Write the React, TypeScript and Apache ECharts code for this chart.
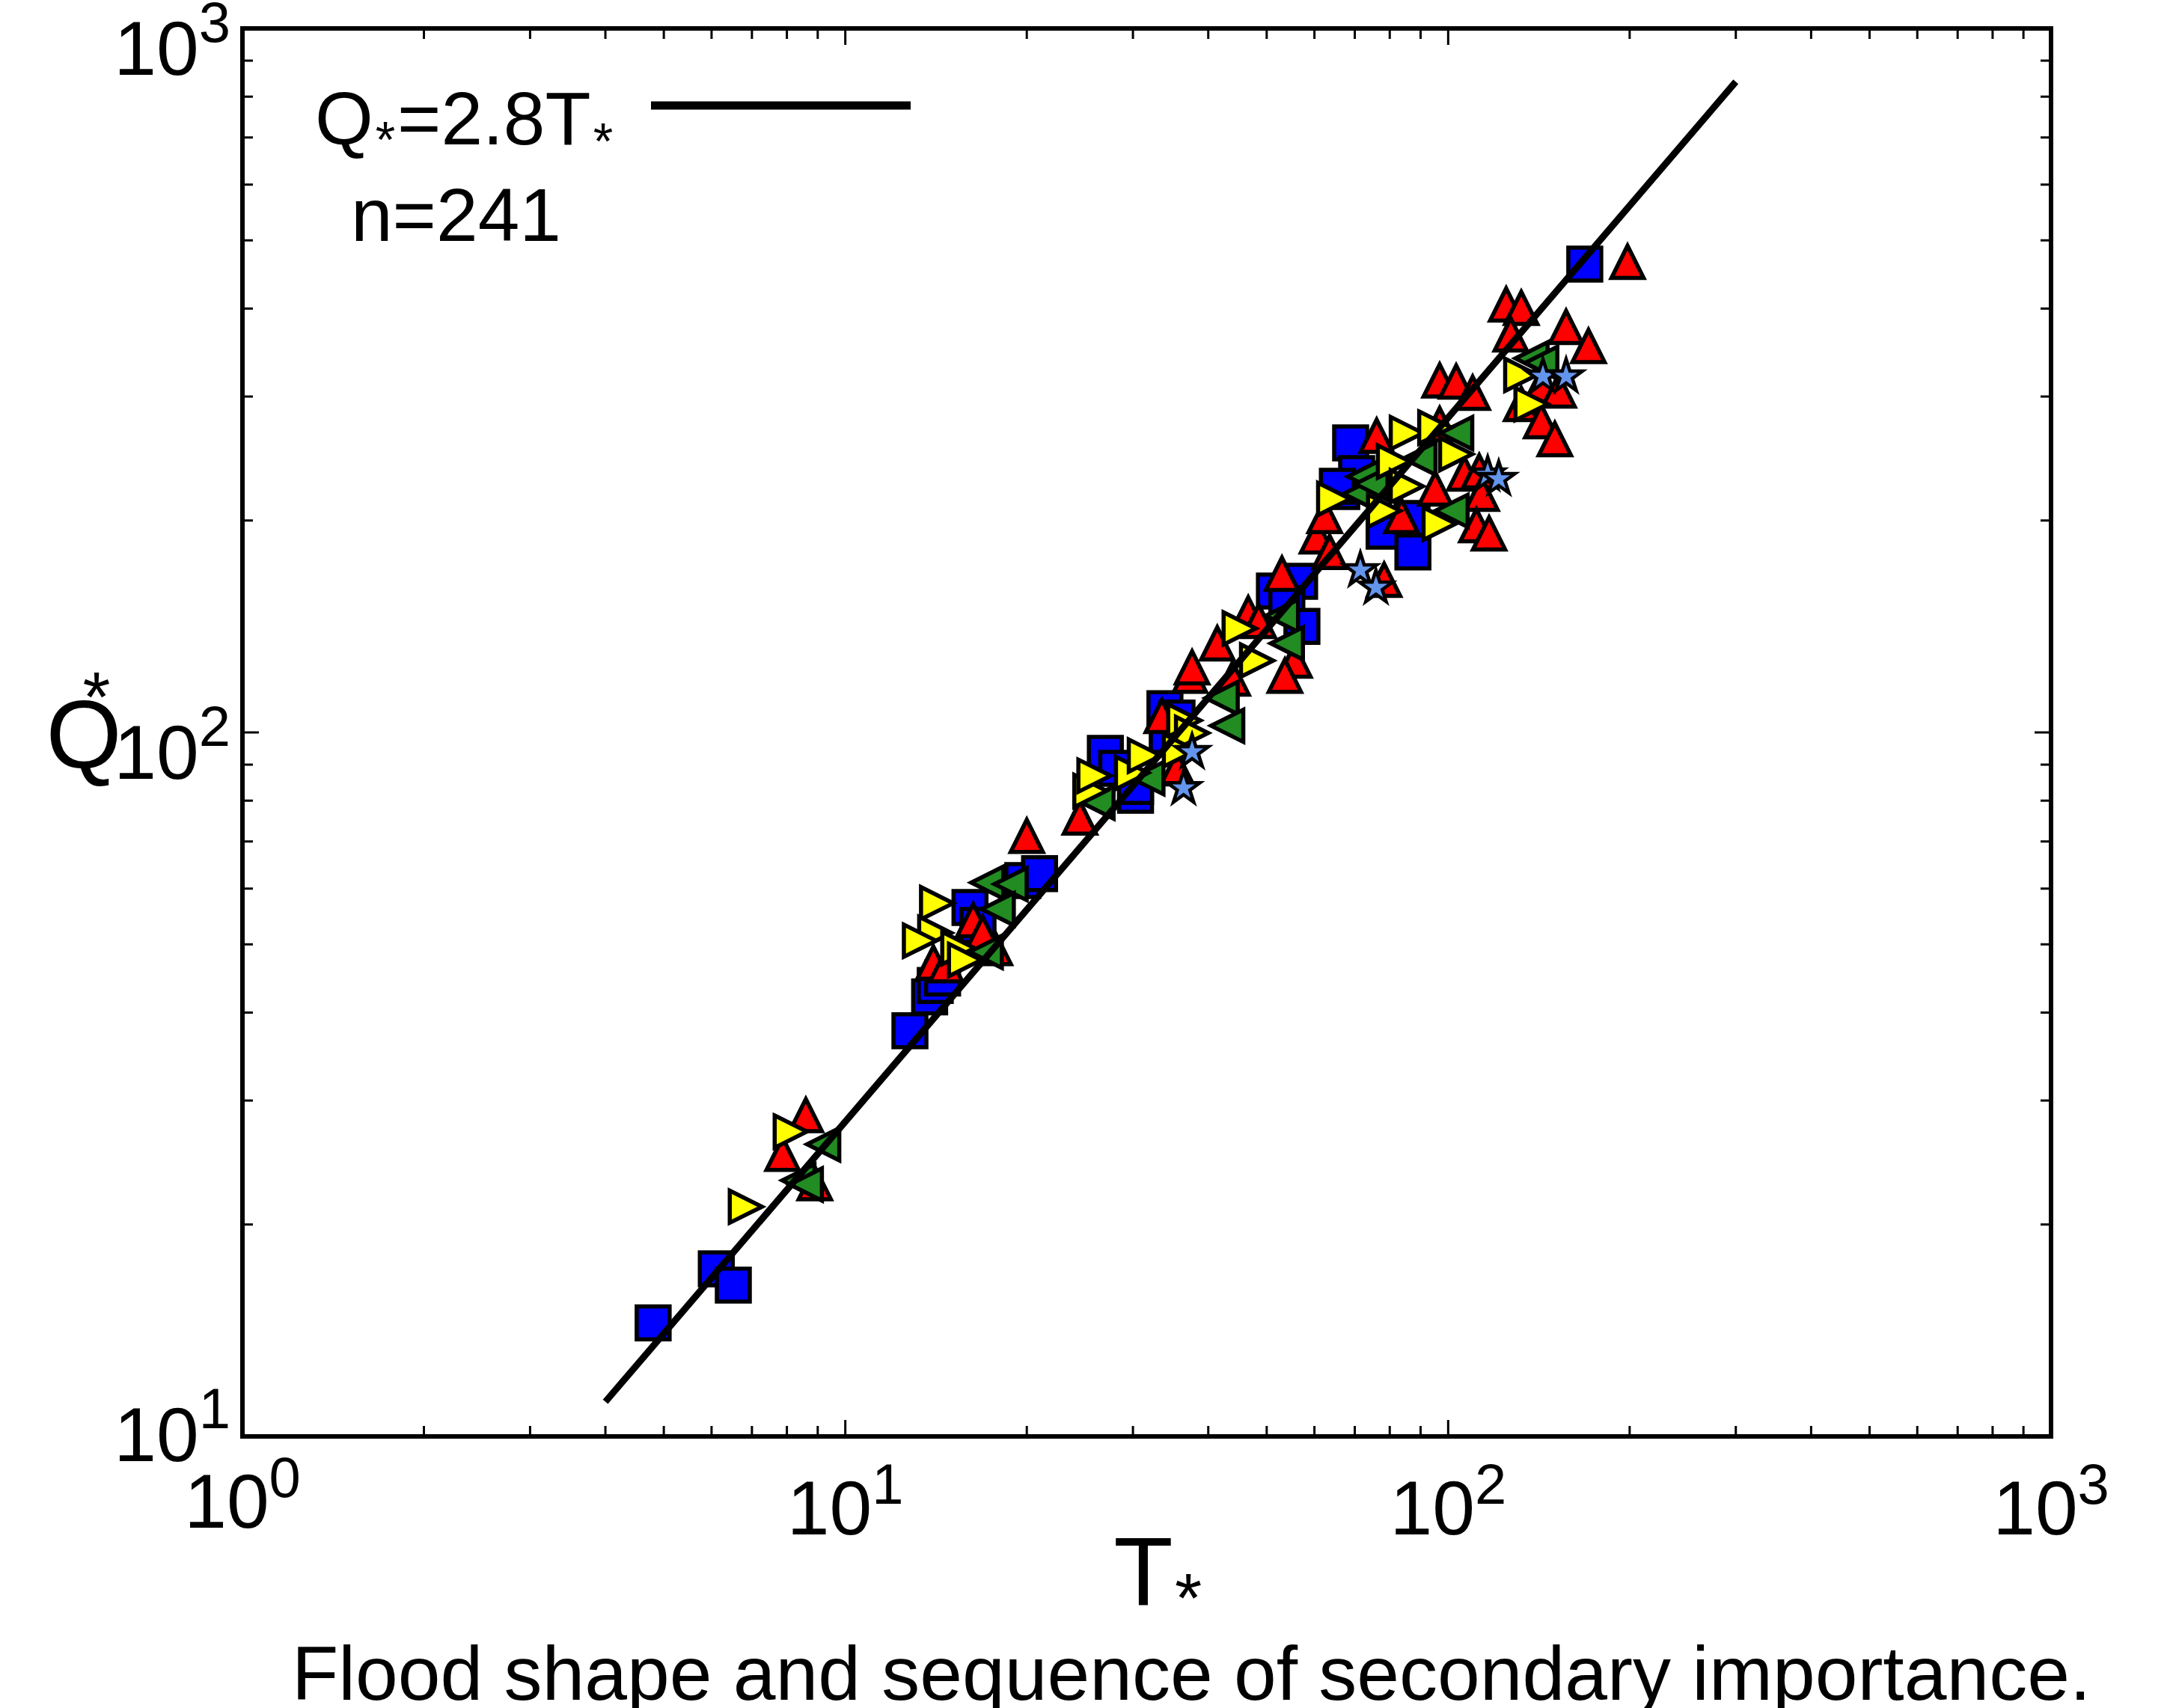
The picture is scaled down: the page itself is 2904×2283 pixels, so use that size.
import React, { useEffect, useRef } from "react";
import * as echarts from "echarts";

// ---- data (T*, Q*) ----
const blueSquares: [number, number][] = [
  [4.8, 14.5], [6.11, 17.3], [6.52, 16.4], [12.8, 37.7], [13.8, 42.1], [14.1, 43.7],
  [14.5, 44.8], [16.1, 56.4], [16.6, 53.2], [19.7, 61.6], [21.0, 63.0], [30.3, 81.4],
  [27.0, 93.4], [28.2, 88.9], [30.3, 83.8], [33.9, 108.1], [35.5, 104.8], [34.2, 99.0],
  [51.5, 158.8], [56.7, 163.9], [54.0, 152.4], [57.2, 141.5], [68.9, 257.8], [70.5, 233.2],
  [66.6, 219.9], [65.5, 223.7], [87.1, 201.4], [78.3, 193.1], [87.4, 180.5], [168.5, 462.7],
];

const redTriangles: [number, number][] = [
  [8.6, 28.6], [7.87, 25.2], [8.9, 22.9], [20.0, 71.3], [24.5, 75.7], [16.3, 54.1],
  [14.0, 47.1], [14.7, 46.7], [17.7, 49.4], [16.9, 51.9], [33.5, 105.5], [35.5, 88.9],
  [37.3, 120.4], [53.0, 168.0], [46.6, 147.6], [48.5, 144.0], [41.4, 133.8], [37.6, 123.7],
  [55.6, 126.5], [53.6, 120.4], [43.9, 119.3], [60.6, 189.8], [62.4, 202.9], [63.6, 180.5],
  [76.1, 263.9], [96.8, 274.1], [95.2, 222.0], [106.4, 233.2], [112.6, 234.9], [113.6, 218.3],
  [111.4, 196.9], [116.9, 191.7], [83.7, 202.9], [78.3, 164.7], [96.8, 316.2], [103.1, 315.0],
  [109.8, 303.7], [124.8, 405.4], [132.2, 400.9], [127.0, 367.6], [156.9, 376.7], [170.9, 353.9],
  [142.7, 311.2], [152.5, 305.9], [132.2, 292.7], [142.7, 276.7], [150.3, 261.0], [198.4, 466.1],
];

const greenLeft: [number, number][] = [
  [9.19, 26.0], [8.36, 23.1], [8.6, 22.8], [17.2, 61.2], [18.8, 60.9], [17.9, 56.1],
  [17.1, 48.8], [26.2, 79.5], [31.7, 86.1], [42.1, 111.9], [43.0, 102.2], [53.0, 146.5],
  [54.0, 133.8], [103.1, 266.2], [89.6, 244.9], [72.5, 230.9], [71.3, 218.3], [101.3, 206.4],
  [74.6, 225.4], [137.5, 339.9], [142.7, 335.0],
];

const yellowRight: [number, number][] = [
  [6.84, 21.2], [8.12, 27.1], [14.2, 57.2], [14.1, 51.9], [13.3, 50.6], [15.4, 49.4],
  [15.8, 47.5], [25.5, 82.6], [25.9, 86.8], [29.9, 87.6], [31.4, 92.7], [36.5, 104.0],
  [37.6, 99.8], [35.9, 94.3], [45.1, 140.5], [48.2, 126.5], [85.4, 266.2], [95.2, 271.0],
  [103.1, 248.5], [81.3, 242.5], [85.4, 223.7], [64.7, 214.6], [78.3, 206.4], [96.8, 197.9],
  [132.2, 322.1], [137.5, 292.7],
];

const blueStars: [number, number][] = [
  [37.6, 94.3], [36.4, 83.8], [71.5, 170.9], [75.9, 161.5], [116.3, 233.8], [121.3, 230.4],
  [143.6, 322.1], [156.9, 322.1],
];

// fitted line Q* = 2.8 T*
const fitLine: [number, number][] = [[4, 11.2], [300, 840]];

// axes
const xMin = 1, xMax = 1000, yMin = 10, yMax = 1000;
const xMajorTicks = [1, 10, 100, 1000];
const xTickExponents = ["0", "1", "2", "3"];
const yMajorTicks = [10, 100, 1000];
const yTickExponents = ["1", "2", "3"];
const xMinorTicks = [2, 3, 4, 5, 6, 7, 8, 9, 20, 30, 40, 50, 60, 70, 80, 90, 200, 300, 400, 500, 600, 700, 800, 900];
const yMinorTicks = [20, 30, 40, 50, 60, 70, 80, 90, 200, 300, 400, 500, 600, 700, 800, 900];

const FONT = '"Liberation Sans", Arial, Helvetica, sans-serif';

const TRI_UP = "path://M5,0L10,10L0,10Z";
const TRI_RIGHT = "path://M0,0L10,5L0,10Z";
const TRI_LEFT = "path://M10,0L0,5L10,10Z";
const STAR =
  "path://M100,0L122.45,69.1L195.1,69.1L136.33,111.8L158.8,180.9L100,138.2L41.2,180.9L63.67,111.8L4.9,69.1L77.55,69.1Z";

const MAJOR_LEN = 22;
const MINOR_LEN = 14;

function tickSeries(vals: number[], len: number, dir: "x" | "y") {
  return {
    type: "custom",
    coordinateSystem: "cartesian2d",
    silent: true,
    clip: false,
    z: 4,
    data: vals.map((v) => (dir === "x" ? [v, yMin] : [xMin, v])),
    renderItem: (_p: any, api: any) => {
      const st = { stroke: "#000", lineWidth: 3 };
      if (dir === "x") {
        const v = api.value(0);
        const b = api.coord([v, yMin]);
        const t = api.coord([v, yMax]);
        return {
          type: "group",
          children: [
            { type: "line", shape: { x1: b[0], y1: b[1], x2: b[0], y2: b[1] - len }, style: st },
            { type: "line", shape: { x1: t[0], y1: t[1], x2: t[0], y2: t[1] + len }, style: st },
          ],
        };
      }
      const v = api.value(1);
      const l = api.coord([xMin, v]);
      const r = api.coord([xMax, v]);
      return {
        type: "group",
        children: [
          { type: "line", shape: { x1: l[0], y1: l[1], x2: l[0] + len, y2: l[1] }, style: st },
          { type: "line", shape: { x1: r[0], y1: r[1], x2: r[0] - len, y2: r[1] }, style: st },
        ],
      };
    },
  };
}

function scatter(name: string, data: [number, number][], symbol: string, size: any, color: string, bw = 5.5, z = 2) {
  return {
    name,
    type: "scatter",
    data,
    symbol,
    symbolSize: size,
    z,
    itemStyle: { color, borderColor: "#000", borderWidth: bw, opacity: 1 },
    emphasis: { disabled: true },
  };
}

// text placed so that its alphabetic baseline is at `baseline`
function txt(text: string, x: number, baseline: number, size: number, align = "left") {
  return {
    type: "text",
    x,
    y: baseline - 0.3465 * size,
    silent: true,
    style: {
      text,
      font: `${size}px ${FONT}`,
      fill: "#000",
      align,
      verticalAlign: "middle",
      textAlign: align,
      textVerticalAlign: "middle",
    },
  };
}
// asterisk centred (glyph) at cx, cy
function star(cx: number, cy: number, size: number) {
  return txt("*", cx, cy + 0.564 * size, size, "center");
}

export default function App() {
  const ref = useRef<HTMLDivElement>(null);
  useEffect(() => {
    if (!ref.current) return;
    const chart = echarts.init(ref.current, null, { renderer: "svg" });
    chart.setOption({
      animation: false,
      backgroundColor: "#fff",
      grid: {
        left: 324,
        top: 38,
        width: 2417,
        height: 1882,
        show: true,
        borderColor: "#000",
        borderWidth: 6,
        containLabel: false,
      },
      xAxis: {
        type: "log",
        logBase: 10,
        min: xMin,
        max: xMax,
        axisLine: { show: false },
        axisTick: { show: false },
        axisLabel: { show: false },
        splitLine: { show: false },
        minorTick: { show: false },
      },
      yAxis: {
        type: "log",
        logBase: 10,
        min: yMin,
        max: yMax,
        axisLine: { show: false },
        axisTick: { show: false },
        axisLabel: { show: false },
        splitLine: { show: false },
        minorTick: { show: false },
      },
      series: [
        tickSeries(xMajorTicks, MAJOR_LEN, "x"),
        tickSeries(xMinorTicks, MINOR_LEN, "x"),
        tickSeries(yMajorTicks, MAJOR_LEN, "y"),
        tickSeries(yMinorTicks, MINOR_LEN, "y"),
        scatter("blue", blueSquares, "rect", 44, "#0000ff"),
        scatter("red", redTriangles, TRI_UP, 43, "#ff0000"),
        scatter("green", greenLeft, TRI_LEFT, 43, "#228b22"),
        scatter("yellow", yellowRight, TRI_RIGHT, 43, "#ffff00"),
        scatter("stars", blueStars, STAR, [44, 42], "#6495ed", 4.5),
        {
          type: "line",
          data: fitLine,
          symbol: "none",
          z: 6,
          lineStyle: { color: "#000", width: 9 },
          silent: true,
        },
      ],
    });

    const px = (v: [number, number]) => chart.convertToPixel({ gridIndex: 0 }, v) as number[];
    const g: any[] = [];
    const bottomY = px([xMin, yMin])[1];
    const leftX = px([xMin, yMin])[0];

    // x tick labels 10^n
    const mainW = 1.112 * 102;
    const supW = 0.556 * 76;
    xMajorTicks.forEach((v, i) => {
      const x = px([v, yMin])[0];
      const start = x - (mainW + supW) / 2;
      const base = bottomY + (i === 0 ? 122 : 131);
      g.push(txt("10", start, base, 102, "left"));
      g.push(txt(xTickExponents[i], start + mainW, base - 41, 76, "left"));
    });
    // y tick labels 10^n
    yMajorTicks.forEach((v, i) => {
      const y = px([xMin, v])[1];
      const right = leftX - 16;
      const base = y + (v === yMin ? 33 : 62);
      g.push(txt(yTickExponents[i], right, base - 44, 76, "right"));
      g.push(txt("10", right - supW, base, 102, "right"));
    });

    // axis titles
    g.push(txt("T", 1528, 2146, 130, "center"));
    g.push(star(1588, 2116, 93));
    g.push(txt("Q", 112, 1026, 130, "center"));
    g.push(star(129, 910, 95));

    // legend
    g.push(txt("Q", 421, 193, 100, "left"));
    g.push(star(515, 171, 68));
    g.push(txt("=2.8T", 531, 193, 100, "left"));
    g.push(star(806, 173, 68));
    g.push({
      type: "line",
      silent: true,
      shape: { x1: 870, y1: 141, x2: 1217, y2: 141 },
      style: { stroke: "#000", lineWidth: 11 },
    });
    g.push(txt("n=241", 469, 322, 100, "left"));

    // caption
    g.push(txt("Flood shape and sequence of secondary importance.", 390, 2272, 102, "left"));

    chart.setOption({ graphic: g });
    return () => chart.dispose();
  }, []);

  return (
    <div
      ref={ref}
      style={{ position: "absolute", left: 0, top: 0, width: 2904, height: 2283, background: "#fff" }}
    />
  );
}
